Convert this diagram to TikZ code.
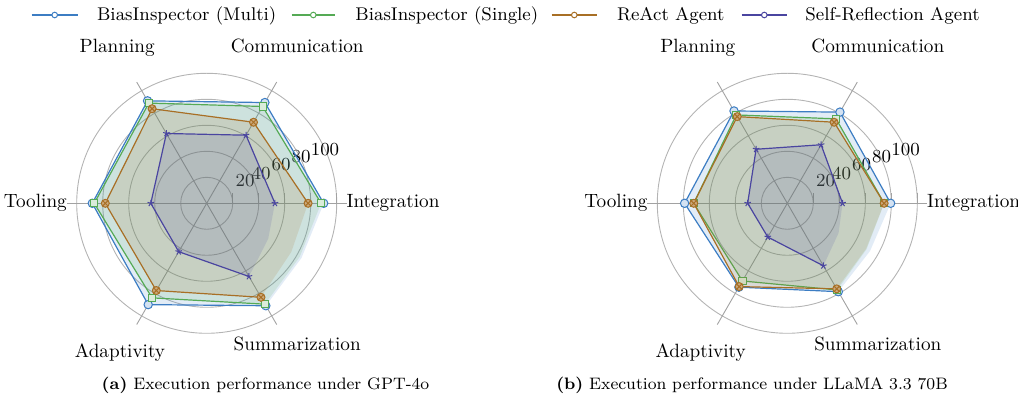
\documentclass[tikz,border=0pt]{standalone}
\usetikzlibrary{plotmarks}
\definecolor{cmulti}{HTML}{3C7DC3}
\definecolor{csingle}{HTML}{55AA55}
\definecolor{creact}{HTML}{A86F25}
\definecolor{cself}{HTML}{4A45A0}
\definecolor{gridc}{HTML}{B4B4B4}
\tikzset{
  gridline/.style={draw=gridc, line width=0.45pt},
  spoke/.style={draw=gridc!90!black, line width=0.45pt},
  axlabel/.style={font=\fontsize{9.6}{11}\selectfont, inner sep=0pt},
  ticklabel/.style={font=\fontsize{9.2}{10}\selectfont, inner sep=0pt},
  legtext/.style={font=\fontsize{9.2}{11}\selectfont, inner sep=0pt, anchor=base west},
  legline/.style={line width=0.6pt},
  captext/.style={font=\fontsize{8.3}{10}\selectfont, inner sep=0pt, anchor=base},
  mmulti/.style={cmulti, mark=*, mark size=2.1pt, mark options={solid, line width=0.5pt, draw=cmulti, fill=cmulti!22}},
  msingle/.style={csingle, mark=square*, mark size=1.8pt, mark options={solid, line width=0.5pt, draw=csingle, fill=csingle!22}},
  mreact/.style={creact, mark=otimes*, mark size=2pt, mark options={solid, line width=0.5pt, draw=creact, fill=creact!60}},
  mself/.style={cself, mark=star, mark size=1.7pt, mark options={solid, line width=0.5pt}},
}
% #1 colour, #2 line+mark style, #3..#8 values at 0,60,...,300 degrees
\newcommand{\radarseries}[8]{%
  \pgfmathsetmacro\rsB{(#8+#3)*0.5*0.93*1.3}%
  \fill[#1, fill opacity=0.15] (0:#3*1.3) -- (-60:#4*1.3) -- (-120:#5*1.3) -- (-180:#6*1.3) -- (-240:#7*1.3) -- (-300:#8*1.3) -- (-330:\rsB) -- cycle;
  \draw[#2, line width=0.6pt] plot coordinates {(0:#3*1.3) (-60:#4*1.3) (-120:#5*1.3) (-180:#6*1.3) (-240:#7*1.3) (-300:#8*1.3)};
}
\newcommand{\radargrid}[1]{%
  \foreach \rr in {13,26,39,52,65} \draw[gridline] (0,0) circle[radius=\rr pt];
  \foreach \aa in {0,60,120,180,240,300} \draw[spoke] (0,0) -- (-\aa:140);
  \foreach \rr in {26,52,78,104,130} \draw[spoke] (\rr,0) -- (\rr,-10);
  \node[ticklabel] (#1-t20) at (38.3,-22.8) {20};
  \node[ticklabel] (#1-t40) at (54.3,-30.3) {40};
  \node[ticklabel] (#1-t60) at (74.3,-38.3) {60};
  \node[ticklabel] (#1-t80) at (94.3,-46.8) {80};
  \node[ticklabel] (#1-t100) at (118.3,-53.8) {100};
  \node[axlabel, anchor=base west] (#1-int) at (139.5,4.7) {Integration};
  \node[axlabel, anchor=base] (#1-com) at (90.5,-150.3) {Communication};
  \node[axlabel, anchor=base] (#1-pla) at (-89.5,-150.3) {Planning};
  \node[axlabel, anchor=base east] (#1-too) at (-139.5,4.7) {Tooling};
  \node[axlabel, anchor=base] (#1-ada) at (-86.7,154.7) {Adaptivity};
  \node[axlabel, anchor=base] (#1-sum) at (90.5,147.7) {Summarization};
}
\begin{document}
\begin{tikzpicture}[x=0.5pt,y=-0.5pt]
\useasboundingbox (0,0) rectangle (1018,405);
% legend
\draw[legline, cmulti] (31.7,15) -- (77.7,15);
\draw[cmulti, line width=0.5pt, fill=white] (54.7,15) circle[radius=1.4pt];
\node[legtext] (l1) at (96.7,20.5) {BiasInspector (Multi)};
\draw[legline, csingle] (291.7,15) -- (335,15);
\draw[csingle, line width=0.5pt, fill=white] (313.3,15) circle[radius=1.4pt];
\node[legtext] (l2) at (355,20.5) {BiasInspector (Single)};
\draw[legline, creact] (551.7,15) -- (596.7,15);
\draw[creact, line width=0.5pt, fill=white] (574.3,15) circle[radius=1.4pt];
\node[legtext] (l3) at (616.7,20.5) {ReAct Agent};
\draw[legline, cself] (741.7,15) -- (786.7,15);
\draw[cself, line width=0.5pt, fill=white] (764.3,15) circle[radius=1.4pt];
\node[legtext] (l4) at (805,20.5) {Self-Reflection Agent};
% chart (a)
\begin{scope}[shift={(206.7,203.3)}]
  \radargrid{a}
  \radarseries{cmulti}{mmulti}{90}{89.5}{91}{88}{90}{91}
  \radarseries{csingle}{msingle}{88}{86}{89}{86.5}{84}{89.6}
  \radarseries{creact}{mreact}{78}{72}{84}{78}{77.5}{83.5}
  \radarseries{cself}{mself}{52.5}{60.5}{62}{43}{43}{65}
\end{scope}
% chart (b)
\begin{scope}[shift={(787.3,203.3)}]
  \radargrid{b}
  \radarseries{cmulti}{mmulti}{79.5}{81}{82}{79}{74.5}{78.5}
  \radarseries{csingle}{msingle}{74.5}{75}{78.5}{72}{69}{77}
  \radarseries{creact}{mreact}{74.5}{72}{77}{72}{74}{76}
  \radarseries{cself}{mself}{42.5}{52}{48}{30.5}{30}{55.5}
\end{scope}
% captions
\node[captext] (capa) at (265.5,390) {\textbf{(a)} Execution performance under GPT-4o};
\node[captext] (capb) at (752,390) {\textbf{(b)} Execution performance under LLaMA 3.3 70B};
\end{tikzpicture}
\end{document}
